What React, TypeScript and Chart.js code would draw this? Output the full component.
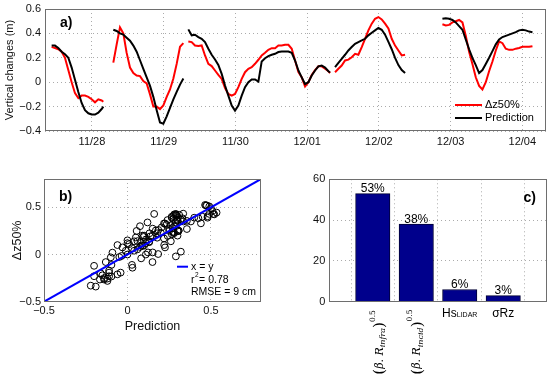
import React, { useEffect, useRef } from 'react';
import { Chart, registerables } from 'chart.js';

Chart.register(...registerables);

const SANS = '"Liberation Sans", Arial, Helvetica, sans-serif';
const SERIF = '"DejaVu Serif", "Liberation Serif", serif';

// ---------- Panel a : time series (hours since 11/28 00:00) ----------
const dayTicks = [0, 1, 2, 3, 4, 5, 6];
const dayLabels = ['11/28', '11/29', '11/30', '12/01', '12/02', '12/03', '12/04'];
const levelTicks = [-0.4, -0.2, 0, 0.2, 0.4, 0.6];

const seg1Hours = [-13.5, -12.38, -11.27, -10.15, -9.04, -7.92, -6.8, -5.69, -4.57, -3.46, -2.34, -1.22, -0.11, 1.01, 2.12, 3.24, 3.8];
const seg1Obs = [0.29, 0.28, 0.27, 0.25, 0.2, 0.1, 0.0, -0.09, -0.13, -0.11, -0.11, -0.12, -0.14, -0.165, -0.14, -0.15, -0.16];
const seg1Pred = [0.3, 0.3, 0.28, 0.25, 0.23, 0.2, 0.12, 0.02, -0.08, -0.17, -0.23, -0.255, -0.265, -0.265, -0.25, -0.22, -0.2];

const seg2Hours = [7.14, 8.26, 9.37, 10.49, 11.6, 12.72, 13.84, 14.95, 16.07, 17.18, 18.3, 19.42, 20.53, 21.65, 22.76, 23.88, 25.0, 26.11, 27.23, 28.34, 29.46, 30.58];
const seg2Obs = [0.16, 0.31, 0.45, 0.4, 0.24, 0.12, 0.075, 0.055, 0.05, 0.01, -0.01, -0.1, -0.2, -0.2, -0.22, -0.19, -0.12, -0.06, 0.03, 0.15, 0.29, 0.32];
const seg2Pred = [0.43, 0.42, 0.4, 0.39, 0.365, 0.34, 0.3, 0.25, 0.18, 0.11, 0.04, -0.03, -0.12, -0.23, -0.33, -0.34, -0.28, -0.21, -0.14, -0.08, -0.02, 0.03];

const seg3Hours = [32.24, 33.36, 34.47, 35.59, 36.7, 37.82, 38.94, 40.05, 41.17, 42.28, 43.4, 44.52, 45.63, 46.75, 47.86, 48.98, 50.1, 51.21, 52.33, 53.44, 54.56, 55.68, 56.79, 57.91, 59.02, 60.14, 61.26, 62.37, 63.49, 64.6, 65.72, 66.84, 67.95, 69.07, 70.18, 71.3, 72.42, 73.53, 74.65, 75.76, 76.88, 78.0, 79.11, 79.67];
const seg3Obs = [0.334, 0.329, 0.301, 0.296, 0.301, 0.219, 0.151, 0.132, 0.096, 0.06, 0.027, -0.049, -0.096, -0.11, -0.096, -0.041, 0.027, 0.082, 0.11, 0.123, 0.151, 0.184, 0.219, 0.241, 0.266, 0.279, 0.279, 0.301, 0.301, 0.307, 0.307, 0.274, 0.178, 0.082, 0.04, -0.035, 0.0, 0.06, 0.1, 0.13, 0.13, 0.11, 0.09, 0.075];
const seg3Pred = [0.433, 0.384, 0.389, 0.37, 0.356, 0.329, 0.274, 0.225, 0.186, 0.142, 0.068, -0.027, -0.11, -0.192, -0.233, -0.192, -0.11, -0.041, 0.0, 0.022, 0.022, 0.005, 0.17, 0.197, 0.214, 0.225, 0.233, 0.247, 0.252, 0.252, 0.252, 0.241, 0.178, 0.096, 0.04, -0.015, 0.0, 0.055, 0.096, 0.13, 0.137, 0.12, 0.09, 0.08];

const seg4Hours = [81.33, 82.45, 83.56, 84.68, 85.79, 86.91, 88.03, 89.14, 90.26, 91.37, 92.49, 93.61, 94.72, 95.84, 96.95, 98.07, 99.19, 100.3, 101.42, 102.53, 103.65, 104.77];
const seg4Obs = [0.082, 0.11, 0.137, 0.178, 0.185, 0.205, 0.233, 0.225, 0.288, 0.356, 0.425, 0.48, 0.52, 0.534, 0.515, 0.48, 0.44, 0.356, 0.3, 0.26, 0.22, 0.225];
const seg4Pred = [0.123, 0.159, 0.192, 0.225, 0.26, 0.288, 0.315, 0.329, 0.342, 0.356, 0.384, 0.405, 0.425, 0.444, 0.43, 0.39, 0.33, 0.27, 0.2, 0.14, 0.1, 0.075];

const seg5Hours = [117.26, 118.38, 119.49, 120.61, 121.72, 122.84, 123.96, 125.07, 126.19, 127.3, 128.42, 129.54, 130.65, 131.77, 132.88, 134.0, 135.12, 136.23, 137.35, 138.46, 139.58, 140.7, 141.81, 142.93, 144.04, 145.16, 146.28, 147.39];
const seg5Obs = [0.475, 0.465, 0.47, 0.49, 0.5, 0.51, 0.49, 0.38, 0.25, 0.15, 0.04, -0.03, -0.06, 0.0, 0.09, 0.17, 0.26, 0.335, 0.32, 0.275, 0.265, 0.265, 0.275, 0.28, 0.29, 0.29, 0.29, 0.295];
const seg5Pred = [0.52, 0.525, 0.52, 0.51, 0.49, 0.46, 0.43, 0.35, 0.27, 0.2, 0.14, 0.075, 0.1, 0.15, 0.2, 0.255, 0.31, 0.35, 0.37, 0.38, 0.39, 0.4, 0.41, 0.425, 0.43, 0.425, 0.415, 0.41];

const segments = [
  { hours: seg1Hours, obs: seg1Obs, pred: seg1Pred },
  { hours: seg2Hours, obs: seg2Obs, pred: seg2Pred },
  { hours: seg3Hours, obs: seg3Obs, pred: seg3Pred },
  { hours: seg4Hours, obs: seg4Obs, pred: seg4Pred },
  { hours: seg5Hours, obs: seg5Obs, pred: seg5Pred },
];
const seriesNames = ['\u0394z50%', 'Prediction'];

// ---------- Panel b ----------
const fitTicks = [-0.5, 0, 0.5];
const identityEnds = [-0.5, 0.8];
const r2Value = '0.78';
const rmseText = 'RMSE = 9 cm';

// ---------- Panel c ----------
const factorPct = [53, 38, 6, 3];
const factorPctLabels = ['53%', '38%', '6%', '3%'];
const factorSubs = ['infra', 'incid', 'LIDAR', ''];
const factorMains = ['R', 'R', 'Hs', '\u03c3Rz'];
const pctTicks = [0, 20, 40, 60];

const fmt = (v: number) => (Math.abs(v) < 1e-9 ? '0' : (v < 0 ? '\u2212' : '') + Math.abs(v).toFixed(1));

function timeSeries(key: 'obs' | 'pred') {
  const pts: any[] = [];
  segments.forEach((s, k) => {
    if (k > 0) pts.push({ x: (s.hours[0] - 0.5) / 24, y: null });
    s.hours.forEach((h, i) => pts.push({ x: h / 24, y: s[key][i] }));
  });
  return pts;
}

const GRID = { color: 'rgba(0,0,0,0.33)', lineWidth: 1, drawTicks: false };
const BORDER = { display: false, dash: [1, 3] };
const AXIS_COLOR = '#6e6e6e';

function boxPlugin(extra?: (chart: any) => void) {
  return {
    id: 'boxAndText',
    afterDraw(chart: any) {
      const { ctx, chartArea: a } = chart;
      ctx.save();
      ctx.strokeStyle = AXIS_COLOR;
      ctx.lineWidth = 1;
      const l = Math.round(a.left) + 0.5, t = Math.round(a.top) + 0.5;
      const r = Math.round(a.right) - 0.5, b = Math.round(a.bottom) - 0.5;
      ctx.strokeRect(l, t, r - l, b - t);
      ctx.restore();
      if (extra) {
        ctx.save();
        extra(chart);
        ctx.restore();
      }
    },
  };
}

function fixedTicks(values: number[]) {
  return (s: any) => {
    s.ticks = values.map((v) => ({ value: v }));
  };
}

function makeA(canvas: HTMLCanvasElement) {
  return new Chart(canvas, {
    type: 'line',
    data: {
      datasets: [
        { label: seriesNames[1], data: timeSeries('pred'), borderColor: '#000000', borderWidth: 2, pointRadius: 0, spanGaps: false, tension: 0 },
        { label: seriesNames[0], data: timeSeries('obs'), borderColor: '#ff0000', borderWidth: 2, pointRadius: 0, spanGaps: false, tension: 0 },
      ],
    },
    options: {
      animation: false,
      responsive: false,
      maintainAspectRatio: false,
      layout: { padding: { left: 0, top: 9, right: 4, bottom: 4 } },
      plugins: { legend: { display: false }, tooltip: { enabled: false } },
      scales: {
        x: {
          type: 'linear',
          min: -0.655,
          max: 6.33,
          afterBuildTicks: fixedTicks(dayTicks),
          afterFit: (s: any) => { s.height = 20; s.paddingLeft = 0; s.paddingRight = 0; },
          ticks: {
            autoSkip: false, maxRotation: 0, padding: 4, color: '#111',
            font: { family: SANS, size: 11 },
            callback: (v: any) => dayLabels[dayTicks.indexOf(v)] ?? '',
          },
          grid: GRID,
          border: BORDER,
        },
        y: {
          min: -0.4,
          max: 0.6,
          afterBuildTicks: fixedTicks(levelTicks),
          afterFit: (s: any) => { s.width = 45; s.paddingTop = 0; s.paddingBottom = 0; },
          ticks: { autoSkip: false, padding: 4, color: '#111', font: { family: SANS, size: 11 }, callback: (v: any) => fmt(v) },
          title: { display: true, text: 'Vertical changes (m)', color: '#111', font: { family: SANS, size: 11 }, padding: { top: 3.4, bottom: 0 } },
          grid: GRID,
          border: BORDER,
        },
      },
    } as any,
    plugins: [
      boxPlugin((chart: any) => {
        const { ctx, chartArea: a } = chart;
        ctx.font = `bold 14px ${SANS}`;
        ctx.fillStyle = '#000';
        ctx.textBaseline = 'middle';
        ctx.fillText('a)', a.left + 15, a.top + 14);
        // legend
        const lx = a.right - 91;
        const rows = [{ c: '#ff0000', t: seriesNames[0], y: a.bottom - 26 }, { c: '#000000', t: seriesNames[1], y: a.bottom - 13 }];
        ctx.font = `11px ${SANS}`;
        rows.forEach((r) => {
          ctx.strokeStyle = r.c;
          ctx.lineWidth = 2;
          ctx.beginPath();
          ctx.moveTo(lx, r.y);
          ctx.lineTo(lx + 27, r.y);
          ctx.stroke();
          ctx.fillStyle = '#000';
          ctx.fillText(r.t, lx + 30, r.y);
        });
      }),
    ],
  });
}

function makeB(canvas: HTMLCanvasElement) {
  const pairs = segments.flatMap((s) => s.obs.map((o, i) => ({ x: o, y: s.pred[i] })));
  return new Chart(canvas, {
    type: 'scatter',
    data: {
      datasets: [
        {
          label: 'x = y',
          data: identityEnds.map((v) => ({ x: v, y: v })),
          showLine: true, borderColor: '#0000ff', borderWidth: 2, pointRadius: 0,
        },
        {
          label: 'obs',
          data: pairs,
          pointRadius: 3.4, pointBorderWidth: 1, borderColor: '#000', pointBorderColor: '#000',
          backgroundColor: 'rgba(0,0,0,0)', pointBackgroundColor: 'rgba(0,0,0,0)',
        },
      ],
    },
    options: {
      animation: false,
      responsive: false,
      maintainAspectRatio: false,
      layout: { padding: { left: 0, top: 19, right: 14, bottom: 36.3 } },
      plugins: { legend: { display: false }, tooltip: { enabled: false } },
      scales: {
        x: {
          type: 'linear', min: -0.5, max: 0.8,
          afterBuildTicks: fixedTicks(fitTicks),
          afterFit: (s: any) => { s.height = 40; s.paddingLeft = 0; s.paddingRight = 0; },
          ticks: { autoSkip: false, maxRotation: 0, padding: 3, color: '#111', font: { family: SANS, size: 11 }, callback: (v: any) => fmt(v) },
          title: { display: true, text: 'Prediction', color: '#111', font: { family: SANS, size: 12.5 }, padding: { top: 0, bottom: 7.5 } },
          grid: GRID,
          border: BORDER,
        },
        y: {
          type: 'linear', min: -0.5, max: 0.8,
          afterBuildTicks: fixedTicks(fitTicks),
          afterFit: (s: any) => { s.width = 44; s.paddingTop = 0; s.paddingBottom = 0; },
          ticks: { autoSkip: false, padding: 3, color: '#111', font: { family: SANS, size: 11 }, callback: (v: any) => fmt(v) },
          title: { display: true, text: '\u0394z50%', color: '#111', font: { family: SANS, size: 12.5 }, padding: { top: 10, bottom: 0 } },
          grid: GRID,
          border: BORDER,
        },
      },
    } as any,
    plugins: [
      boxPlugin((chart: any) => {
        const { ctx, chartArea: a } = chart;
        ctx.fillStyle = '#000';
        ctx.textBaseline = 'middle';
        ctx.font = `bold 14px ${SANS}`;
        ctx.fillText('b)', a.left + 15, a.top + 18);
        const lx = a.left + 133;
        const y0 = a.bottom - 35;
        ctx.strokeStyle = '#0000ff';
        ctx.lineWidth = 2;
        ctx.beginPath();
        ctx.moveTo(lx, y0);
        ctx.lineTo(lx + 11, y0);
        ctx.stroke();
        const tx = lx + 14;
        ctx.font = `10.5px ${SANS}`;
        ctx.fillText('x = y', tx, y0);
        ctx.fillText('r', tx, y0 + 13);
        const rw = ctx.measureText('r').width;
        ctx.font = `6.5px ${SANS}`;
        ctx.fillText('2', tx + rw + 0.5, y0 + 9);
        const sw = ctx.measureText('2').width;
        ctx.font = `10.5px ${SANS}`;
        ctx.fillText('= ' + r2Value, tx + rw + sw + 1, y0 + 13);
        ctx.fillText(rmseText, tx, y0 + 25);
      }),
    ],
  });
}

function makeC(canvas: HTMLCanvasElement) {
  return new Chart(canvas, {
    type: 'bar',
    data: {
      datasets: [
        {
          label: 'contribution',
          data: factorPct.map((v, i) => ({ x: i + 1, y: v })),
          backgroundColor: '#00008c',
          borderColor: '#000033',
          borderWidth: 1,
          barThickness: 34.4,
        },
      ],
    },
    options: {
      animation: false,
      responsive: false,
      maintainAspectRatio: false,
      layout: { padding: { left: 0, top: 19.3, right: 3.3, bottom: 76.3 } },
      plugins: { legend: { display: false }, tooltip: { enabled: false } },
      scales: {
        x: {
          type: 'linear', min: 0, max: 5, offset: false,
          afterBuildTicks: fixedTicks([1, 2, 3, 4]),
          afterFit: (s: any) => { s.height = 0; s.paddingLeft = 0; s.paddingRight = 0; },
          ticks: { display: false },
          grid: GRID,
          border: BORDER,
        },
        y: {
          min: 0, max: 60,
          afterBuildTicks: fixedTicks(pctTicks),
          afterFit: (s: any) => { s.width = 54.3; s.paddingTop = 0; s.paddingBottom = 0; },
          ticks: { autoSkip: false, padding: 4, color: '#111', font: { family: SANS, size: 11 } },
          grid: GRID,
          border: BORDER,
        },
      },
    } as any,
    plugins: [
      boxPlugin((chart: any) => {
        const { ctx, chartArea: a, scales } = chart;
        const meta = chart.getDatasetMeta(0);
        ctx.fillStyle = '#000';
        ctx.textAlign = 'center';
        ctx.textBaseline = 'alphabetic';
        ctx.font = `12px ${SANS}`;
        meta.data.forEach((bar: any, i: number) => {
          ctx.fillText(factorPctLabels[i], bar.x, bar.y - 1.5);
        });
        ctx.textBaseline = 'middle';
        ctx.font = `bold 14px ${SANS}`;
        ctx.fillText('c)', a.right - 17, a.top + 19);

        // category labels
        ctx.textBaseline = 'alphabetic';
        ctx.textAlign = 'left';
        const xs = scales.x;
        const rotOffsets = [10, 4];
        for (let k = 0; k < 2; k++) {
          const cx = xs.getPixelForValue(k + 1) + rotOffsets[k];
          ctx.save();
          ctx.translate(cx, a.bottom + 73);
          ctx.rotate(-Math.PI / 2);
          const parts = [
            { t: '(', f: `15px ${SERIF}`, dy: 1.5 },
            { t: '\u03b2', f: `italic 11px ${SERIF}`, dy: 0 },
            { t: '. ', f: `11px ${SERIF}`, dy: 0 },
            { t: factorMains[k], f: `italic 11px ${SERIF}`, dy: 0 },
            { t: factorSubs[k], f: `italic 8px ${SERIF}`, dy: 2.5 },
            { t: ')', f: `15px ${SERIF}`, dy: 1.5 },
            { t: '0.5', f: `7.5px ${SERIF}`, dy: -8 },
          ];
          let x = 0;
          parts.forEach((p) => {
            ctx.font = p.f;
            ctx.fillText(p.t, x, p.dy);
            x += ctx.measureText(p.t).width;
          });
          ctx.restore();
        }
        const baseY = a.bottom + 15.3;
        // Hs LIDAR
        {
          const cx = xs.getPixelForValue(3);
          ctx.font = `12px ${SANS}`;
          const w1 = ctx.measureText(factorMains[2]).width;
          ctx.font = `7px ${SANS}`;
          const w2 = ctx.measureText(factorSubs[2]).width;
          const x0 = cx - (w1 + w2) / 2;
          ctx.font = `12px ${SANS}`;
          ctx.fillText(factorMains[2], x0, baseY);
          ctx.font = `7px ${SANS}`;
          ctx.fillText(factorSubs[2], x0 + w1, baseY);
        }
        {
          const cx = xs.getPixelForValue(4);
          ctx.font = `12px ${SANS}`;
          ctx.textAlign = 'center';
          ctx.fillText(factorMains[3], cx, baseY);
        }
      }),
    ],
  });
}

export default function App() {
  const aRef = useRef<HTMLCanvasElement | null>(null);
  const bRef = useRef<HTMLCanvasElement | null>(null);
  const cRef = useRef<HTMLCanvasElement | null>(null);

  useEffect(() => {
    const charts = [makeA(aRef.current!), makeB(bRef.current!), makeC(cRef.current!)];
    return () => charts.forEach((c) => c.destroy());
  }, []);

  return (
    <div style={{ position: 'absolute', left: 0, top: 0, width: 550, height: 378, background: '#fff', overflow: 'hidden' }}>
      <canvas ref={aRef} width={550} height={155} style={{ position: 'absolute', left: 0, top: 0, width: 550, height: 155 }} />
      <canvas ref={bRef} width={275} height={218} style={{ position: 'absolute', left: 0, top: 160, width: 275, height: 218 }} />
      <canvas ref={cRef} width={275} height={218} style={{ position: 'absolute', left: 275, top: 160, width: 275, height: 218 }} />
    </div>
  );
}
